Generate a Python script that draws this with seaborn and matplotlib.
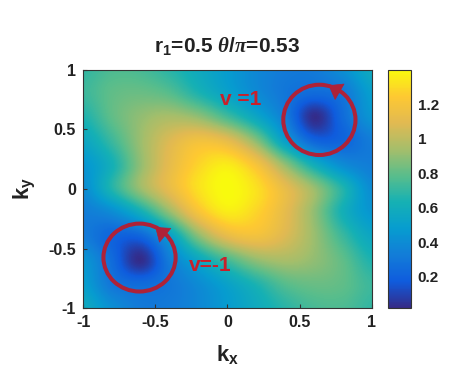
import numpy as np
import pandas as pd
import seaborn as sns
import matplotlib.pyplot as plt
from matplotlib.patches import Ellipse, FancyArrowPatch

# grid of the map (rows: ky from 1 down to -1)
kx = [-1.0, -0.8, -0.6, -0.4, -0.2, 0.0, 0.2, 0.4, 0.6, 0.8, 1.0]
ky = [1.0, 0.8, 0.6, 0.4, 0.2, 0.0, -0.2, -0.4, -0.6, -0.8, -1.0]
row_p10 = [0.70, 0.76, 0.75, 0.68, 0.58, 0.48, 0.38, 0.32, 0.32, 0.42, 0.58]
row_p08 = [0.72, 0.80, 0.82, 0.78, 0.65, 0.52, 0.40, 0.30, 0.25, 0.30, 0.50]
row_p06 = [0.65, 0.80, 0.90, 0.95, 0.90, 0.74, 0.55, 0.33, 0.03, 0.25, 0.45]
row_p04 = [0.55, 0.72, 0.92, 1.08, 1.18, 1.12, 0.88, 0.50, 0.22, 0.22, 0.33]
row_p02 = [0.45, 0.62, 0.90, 1.12, 1.28, 1.35, 1.20, 0.90, 0.60, 0.40, 0.33]
row_000 = [0.40, 0.66, 0.92, 1.13, 1.32, 1.40, 1.32, 1.13, 0.92, 0.66, 0.40]
row_m02 = [0.33, 0.40, 0.60, 0.90, 1.20, 1.35, 1.28, 1.12, 0.90, 0.62, 0.45]
row_m04 = [0.33, 0.22, 0.22, 0.50, 0.88, 1.12, 1.18, 1.08, 0.92, 0.72, 0.55]
row_m06 = [0.45, 0.25, 0.03, 0.33, 0.55, 0.74, 0.90, 0.95, 0.90, 0.80, 0.65]
row_m08 = [0.50, 0.30, 0.25, 0.30, 0.40, 0.52, 0.65, 0.78, 0.82, 0.80, 0.72]
row_m10 = [0.58, 0.42, 0.32, 0.32, 0.38, 0.48, 0.58, 0.68, 0.75, 0.76, 0.70]

ticks = [-1, -0.5, 0, 0.5, 1]
tick_labels = ['-1', '-0.5', '0', '0.5', '1']
cb_ticks = [0.2, 0.4, 0.6, 0.8, 1.0, 1.2]
cb_labels = ['0.2', '0.4', '0.6', '0.8', '1', '1.2']

df = pd.DataFrame([row_p10, row_p08, row_p06, row_p04, row_p02, row_000,
                   row_m02, row_m04, row_m06, row_m08, row_m10], index=ky, columns=kx)

# parula-like map
parula = sns.blend_palette([(0.2081, 0.1663, 0.5292), (0.0591, 0.3598, 0.8683), (0.0723, 0.4887, 0.8467),
                            (0.0265, 0.6137, 0.8135), (0.0843, 0.6928, 0.7062), (0.3482, 0.7424, 0.5473),
                            (0.6473, 0.7456, 0.4188), (0.8824, 0.7274, 0.3217), (0.9955, 0.7861, 0.1967),
                            (0.9763, 0.9831, 0.0538)], as_cmap=True)

sns.set_theme(style='white')
plt.rcParams['font.family'] = ['Liberation Sans', 'DejaVu Sans']
plt.rcParams['font.weight'] = 'bold'
plt.rcParams['mathtext.fontset'] = 'custom'
plt.rcParams['mathtext.rm'] = 'Liberation Sans:bold'
plt.rcParams['mathtext.bf'] = 'Liberation Sans:bold'
plt.rcParams['mathtext.it'] = 'Liberation Serif:italic'

fig = plt.figure(figsize=(4.59, 3.88), dpi=100)
ax = fig.add_axes([0.181, 0.206, 0.629, 0.614])
cax = fig.add_axes([0.845, 0.206, 0.050, 0.614])

step = 0.1
im = ax.imshow(df.values, cmap=parula, vmin=0.02, vmax=1.40, interpolation='catrom', aspect='auto',
               origin='upper', extent=(min(kx) - step, max(kx) + step, min(ky) - step, max(ky) + step))
ax.set_xlim(-1, 1)
ax.set_ylim(-1, 1)
ax.set_xticks(ticks)
ax.set_xticklabels(tick_labels)
ax.set_yticks(ticks)
ax.set_yticklabels(tick_labels)
ax.tick_params(direction='in', length=3, width=0.8, color='#333333', labelsize=11.5, labelcolor='#222222',
               bottom=True, left=True, pad=5)
for s in ax.spines.values():
    s.set_color('#333333')
    s.set_linewidth(0.8)

ax.set_xlabel(r'k$_{\mathbf{x}}$', fontsize=16, fontweight='bold', color='#222222', labelpad=9)
ax.set_ylabel(r'k$_{\mathbf{y}}$', fontsize=16, fontweight='bold', color='#222222', labelpad=8)
ax.set_title(r'r$_{\mathbf{1}}$=0.5 $\theta/\pi$=0.53', fontsize=15, fontweight='bold', color='#222222', pad=13)

cb = fig.colorbar(im, cax=cax, ticks=cb_ticks)
cb.ax.set_yticklabels(cb_labels)
cb.ax.tick_params(direction='in', length=3, width=0.8, color='#333333', labelsize=11, labelcolor='#222222', pad=5)
cb.outline.set_edgecolor('#333333')
cb.outline.set_linewidth(0.8)

# red winding circles with counter-clockwise arrowheads
ring = '#AE2238'
for (cx, cy, w, h), (tx, ty, hx, hy) in [((0.637, 0.58, 0.50, 0.59), (0.80, 0.80, 0.70, 0.87)),
                                       ((-0.609, -0.576, 0.50, 0.57), (-0.42, -0.40, -0.50, -0.32))]:
    ax.add_patch(Ellipse((cx, cy), w, h, fill=False, edgecolor=ring, linewidth=2.9))
    ax.add_patch(FancyArrowPatch((tx, ty), (hx, hy), arrowstyle='-|>,head_length=0.55,head_width=0.4',
                                 mutation_scale=16, color=ring, lw=0.5, shrinkA=0, shrinkB=0))
ax.text(0.093, 0.75, 'v =1', color='#C8202A', fontsize=15, fontweight='bold', ha='center', va='center')
ax.text(-0.12, -0.64, 'v=-1', color='#C8202A', fontsize=15, fontweight='bold', ha='center', va='center')

fig.savefig('out.png', dpi=100, facecolor='white')
